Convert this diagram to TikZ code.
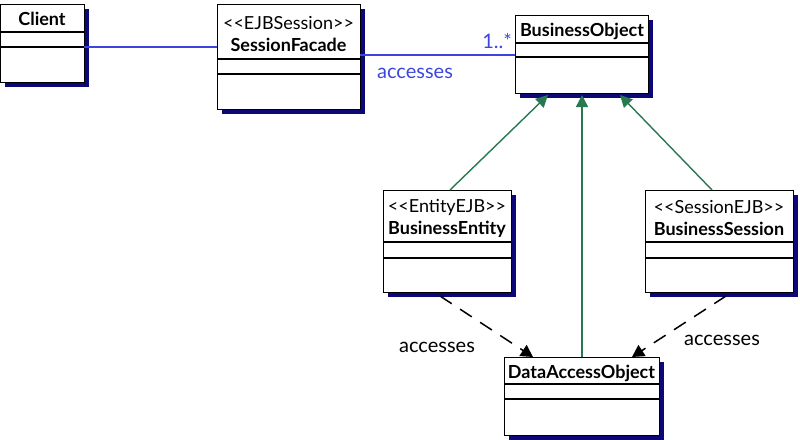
\documentclass[tikz,border=0pt]{standalone}
\usepackage{fontspec}
\setmainfont{Lato}
\usetikzlibrary{shadows,arrows.meta}
\definecolor{navy}{RGB}{12,8,120}
\definecolor{assocblue}{RGB}{60,70,220}
\definecolor{gengreen}{RGB}{40,120,80}
\newcommand{\stlo}{<\kern0pt<}
\newcommand{\sthi}{>\kern0pt>}
\tikzset{
  classbox/.style={draw=black, line width=1.2pt, fill=white, inner sep=0pt, anchor=north west,
    drop shadow={shadow xshift=4pt, shadow yshift=-4pt, fill=navy, opacity=1}},
  sepline/.style={black, line width=1.1pt},
  ctitle/.style={font=\bfseries\fontsize{18}{20}\selectfont, inner sep=0pt},
  stereo/.style={font=\fontsize{18}{20}\selectfont, inner sep=0pt},
  assoc/.style={assocblue, line width=1.3pt},
  gen/.style={gengreen, line width=1.4pt, -{Triangle[width=12pt,length=12pt]}},
  dep/.style={black, line width=1.5pt, dash pattern=on 14pt off 10pt, -{Triangle[width=13pt,length=12pt]}},
  lbl/.style={font=\fontsize{20}{22}\selectfont, inner sep=0pt}
}
\begin{document}
\begin{tikzpicture}[x=1pt,y=-1pt]
\useasboundingbox (0,0) rectangle (800,439);
% Client
\node[classbox, minimum width=84pt, minimum height=78pt] (client) at (0,4) {};
\draw[sepline] (0,32) -- (84,32);
\draw[sepline] (0,47) -- (84,47);
\node[ctitle] (clientname) at (42,19) {Client};
% SessionFacade
\node[classbox, minimum width=143pt, minimum height=105pt] (sf) at (217,4) {};
\draw[sepline] (217,59) -- (360,59);
\draw[sepline] (217,74) -- (360,74);
\node[stereo] (sfst) at (288.5,23) {\stlo EJBSession\sthi};
\node[ctitle] (sfname) at (288.5,45) {SessionFacade};
% BusinessObject
\node[classbox, minimum width=133pt, minimum height=78pt] (bo) at (515,15) {};
\draw[sepline] (515,43) -- (648,43);
\draw[sepline] (515,57) -- (648,57);
\node[ctitle] (boname) at (582,31) {BusinessObject};
% BusinessEntity
\node[classbox, minimum width=128pt, minimum height=102pt] (be) at (383,190) {};
\draw[sepline] (383,242) -- (511,242);
\draw[sepline] (383,258) -- (511,258);
\node[stereo] (best) at (447,207) {\stlo EntityEJB\sthi};
\node[ctitle] (bename) at (447,229) {BusinessEntity};
% BusinessSession
\node[classbox, minimum width=148pt, minimum height=102pt] (bs) at (645,190) {};
\draw[sepline] (645,242) -- (793,242);
\draw[sepline] (645,258) -- (793,258);
\node[stereo] (bsst) at (719,207) {\stlo SessionEJB\sthi};
\node[ctitle] (bsname) at (719,229) {BusinessSession};
% DataAccessObject
\node[classbox, minimum width=155pt, minimum height=78pt] (dao) at (504,357) {};
\draw[sepline] (504,384) -- (659,384);
\draw[sepline] (504,399) -- (659,399);
\node[ctitle] (daoname) at (581.5,373) {DataAccessObject};
% coordinates
\coordinate (c1) at (84,47);
\coordinate (c2) at (217,47);
\coordinate (c3) at (360,55);
\coordinate (c4) at (515,55);
% associations
\draw[assoc] (c1) -- (c2);
\draw[assoc] (c3) -- (c4);
\node[lbl, text=assocblue, anchor=east] (mult) at (512,41) {1..*};
\node[lbl, text=assocblue] (acc1) at (415,73) {accesses};
% generalizations
\coordinate (g1s) at (450,190);
\coordinate (g1e) at (548,95);
\coordinate (g2s) at (582,357);
\coordinate (g2e) at (582,95);
\coordinate (g3s) at (712,190);
\coordinate (g3e) at (620,95);
\draw[gen] (g1s) -- (g1e);
\draw[gen] (g2s) -- (g2e);
\draw[gen] (g3s) -- (g3e);
% dependencies
\coordinate (d1s) at (440,296);
\coordinate (d1e) at (533,357);
\coordinate (d2s) at (726,296);
\coordinate (d2e) at (632,357);
\draw[dep] (d1s) -- (d1e);
\draw[dep] (d2s) -- (d2e);
\node[lbl] (acc2) at (437,347) {accesses};
\node[lbl] (acc3) at (722,340) {accesses};
\end{tikzpicture}
\end{document}
